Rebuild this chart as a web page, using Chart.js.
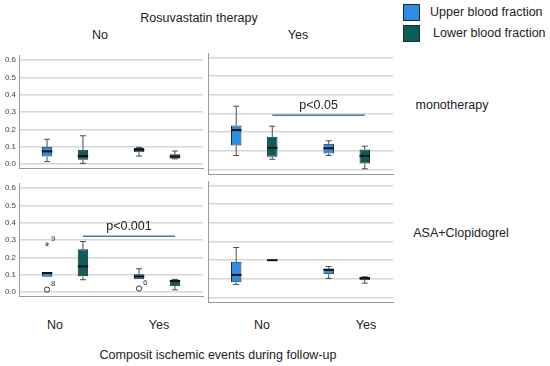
<!DOCTYPE html>
<html>
<head>
<meta charset="utf-8">
<script src="https://cdn.jsdelivr.net/npm/chart.js@4"></script>
<style>
body { margin: 0; background: #fff; }
#wrap { position: relative; width: 550px; height: 366px; font-family: "Liberation Sans", Arial, sans-serif; color: #222; }
canvas { position: absolute; }
.t { position: absolute; white-space: nowrap; transform: translate(-50%, -50%); font-size: 12.5px; }
.l { position: absolute; white-space: nowrap; transform: translateY(-50%); font-size: 12.5px; }
.sw { position: absolute; width: 15px; height: 15px; border: 1px solid #1d2b36; }
</style>
</head>
<body>
<div id="wrap">
  <div class="t" style="left:199px;top:18px">Rosuvastatin therapy</div>
  <div class="t" style="left:100px;top:35px">No</div>
  <div class="t" style="left:298px;top:35px">Yes</div>
  <div class="sw" style="left:403px;top:4px;background:#2b8de3"></div>
  <div class="l" style="left:430px;top:12px">Upper blood fraction</div>
  <div class="sw" style="left:403px;top:25px;background:#0b5e58"></div>
  <div class="l" style="left:433px;top:33px">Lower blood fraction</div>
  <div class="t" style="left:452px;top:105px">monotherapy</div>
  <div class="t" style="left:461px;top:233px">ASA+Clopidogrel</div>
  <div class="t" style="left:55px;top:325px">No</div>
  <div class="t" style="left:159px;top:325px">Yes</div>
  <div class="t" style="left:262px;top:325px">No</div>
  <div class="t" style="left:366px;top:325px">Yes</div>
  <div class="t" style="left:218px;top:355px">Composit ischemic events during follow-up</div>

  <canvas id="tl" width="205" height="128" style="left:0px;top:48px"></canvas>
  <canvas id="tr" width="189" height="128" style="left:206px;top:48px"></canvas>
  <canvas id="bl" width="205" height="128" style="left:0px;top:176px"></canvas>
  <canvas id="br" width="189" height="128" style="left:206px;top:176px"></canvas>
</div>
<script>
// composit ischemic events (x categories)
var events = ["No", "Yes"];
var yTicks = [0, 0.1, 0.2, 0.3, 0.4, 0.5, 0.6];

// each entry: [min, q1, median, q3, max] for events No / Yes
var monoNoUpper = [[0.014, 0.043, 0.073, 0.100, 0.143], [0.046, 0.068, 0.082, 0.093, 0.096]];
var monoNoLower = [[0.004, 0.025, 0.046, 0.082, 0.163], [0.030, 0.032, 0.043, 0.057, 0.075]];
var monoYesUpper = [[0.075, 0.129, 0.211, 0.236, 0.339], [0.075, 0.086, 0.114, 0.138, 0.154]];
var monoYesLower = [[0.055, 0.068, 0.116, 0.175, 0.232], [0.004, 0.032, 0.073, 0.107, 0.125]];
var dualNoUpper = [[0.088, 0.088, 0.109, 0.116, 0.116], [0.073, 0.073, 0.090, 0.102, 0.134]];
var dualNoLower = [[0.071, 0.091, 0.148, 0.246, 0.291], [0.013, 0.034, 0.064, 0.071, 0.073]];
var dualYesUpper = [[0.070, 0.082, 0.121, 0.191, 0.268], [0.102, 0.125, 0.148, 0.155, 0.166]];
var dualYesLower = [[0.198, 0.198, 0.200, 0.202, 0.202], [0.077, 0.093, 0.104, 0.109, 0.111]];

// outliers in ASA+Clopidogrel / no rosuvastatin panel (upper fraction)
var dualNoOutlierCat = [0, 0, 1];
var dualNoOutlierVal = [0.27, 0.014, 0.02];
var dualNoOutlierMark = ["*", "o", "o"];
var dualNoOutlierCase = ["9", "8", "6"];

var upperColor = "#2b8de3";
var lowerColor = "#0b5e58";
Chart.defaults.font.family = "'Liberation Sans', Arial, sans-serif";

var boxExtras = {
    id: "boxExtras",
    beforeDatasetsDraw: function (chart) {
        var ctx = chart.ctx, y = chart.scales.y;
        chart.data.datasets.forEach(function (ds, d) {
            chart.getDatasetMeta(d).data.forEach(function (bar, i) {
                var s = ds.stats[i];
                ctx.save();
                ctx.strokeStyle = "#4a4a4a";
                ctx.lineWidth = 1;
                [[s[3], s[4]], [s[1], s[0]]].forEach(function (p) {
                    if (Math.abs(p[1] - p[0]) < 0.002) return;
                    var y0 = y.getPixelForValue(p[0]), y1 = y.getPixelForValue(p[1]);
                    ctx.beginPath();
                    ctx.moveTo(bar.x, y0);
                    ctx.lineTo(bar.x, y1);
                    ctx.moveTo(bar.x - 3, y1);
                    ctx.lineTo(bar.x + 3, y1);
                    ctx.stroke();
                });
                ctx.restore();
            });
        });
    },
    afterDatasetsDraw: function (chart, args, opts) {
        var ctx = chart.ctx, y = chart.scales.y;
        ctx.save();
        chart.data.datasets.forEach(function (ds, d) {
            chart.getDatasetMeta(d).data.forEach(function (bar, i) {
                var ym = y.getPixelForValue(ds.stats[i][2]);
                ctx.strokeStyle = "#111";
                ctx.lineWidth = 2;
                ctx.beginPath();
                ctx.moveTo(bar.x - bar.width / 2, ym);
                ctx.lineTo(bar.x + bar.width / 2, ym);
                ctx.stroke();
            });
        });
        if (opts.outCat) {
            var meta = chart.getDatasetMeta(0);
            opts.outCat.forEach(function (c, k) {
                var x = meta.data[c].x, py = y.getPixelForValue(opts.outVal[k]);
                ctx.strokeStyle = "#333";
                ctx.fillStyle = "#333";
                ctx.lineWidth = 1;
                if (opts.outMark[k] === "o") {
                    ctx.beginPath();
                    ctx.arc(x, py, 2.6, 0, Math.PI * 2);
                    ctx.stroke();
                } else {
                    ctx.font = "12px 'Liberation Sans'";
                    ctx.textAlign = "center";
                    ctx.textBaseline = "middle";
                    ctx.fillText("*", x, py + 2);
                }
                ctx.font = "8px 'Liberation Sans'";
                ctx.textAlign = "left";
                ctx.textBaseline = "middle";
                ctx.fillText(opts.outCase[k], x + 4, py - 6);
            });
        }
        if (opts.pText) {
            var m = chart.getDatasetMeta(1);
            var x0 = m.data[0].x, x1 = m.data[1].x, py = y.getPixelForValue(opts.pValue);
            ctx.strokeStyle = "#4a7c98";
            ctx.lineWidth = 1.5;
            ctx.beginPath();
            ctx.moveTo(x0, py);
            ctx.lineTo(x1, py);
            ctx.stroke();
            ctx.fillStyle = "#222";
            ctx.font = "12.5px 'Liberation Sans'";
            ctx.textAlign = "center";
            ctx.textBaseline = "middle";
            ctx.fillText(opts.pText, (x0 + x1) / 2, py - 10);
        }
        ctx.restore();
    }
};

function makePanel(id, upper, lower, left, extras) {
    var mk = function (stats, color) {
        return {
            data: stats.map(function (s) { return [s[1], s[3]]; }),
            stats: stats,
            backgroundColor: color,
            borderColor: "#1d2b36",
            borderWidth: 1,
            borderSkipped: false,
            categoryPercentage: 0.78,
            barPercentage: 0.29
        };
    };
    return new Chart(document.getElementById(id), {
        type: "bar",
        data: { labels: events, datasets: [mk(upper, upperColor), mk(lower, lowerColor)] },
        options: {
            responsive: false,
            animation: false,
            layout: { padding: { top: 5, bottom: 2, right: 2, left: left ? 0 : 2 } },
            plugins: { legend: { display: false }, tooltip: { enabled: false }, boxExtras: extras || {} },
            scales: {
                x: {
                    afterFit: function (s) { s.height = 0; },
                    grid: { display: false },
                    border: { display: true, color: "#9a9a9a", width: 1 },
                    ticks: { display: false }
                },
                y: {
                    min: -0.024,
                    max: 0.624,
                    afterBuildTicks: function (s) { s.ticks = yTicks.map(function (v) { return { value: v }; }); },
                    afterFit: function (s) { s.width = left ? 19 : 0; },
                    grid: { color: "#d6d6d6", lineWidth: 1.5, drawTicks: false },
                    border: { display: true, color: "#9a9a9a", width: 1 },
                    ticks: {
                        display: left,
                        padding: 3,
                        color: "#444",
                        font: { size: 8 },
                        callback: function (v) { return Number(v).toFixed(1); }
                    }
                }
            }
        },
        plugins: [boxExtras]
    });
}

makePanel("tl", monoNoUpper, monoNoLower, true);
makePanel("tr", monoYesUpper, monoYesLower, false, { pText: "p<0.05", pValue: 0.291 });
makePanel("bl", dualNoUpper, dualNoLower, true, {
    pText: "p<0.001", pValue: 0.321,
    outCat: dualNoOutlierCat, outVal: dualNoOutlierVal, outMark: dualNoOutlierMark, outCase: dualNoOutlierCase
});
makePanel("br", dualYesUpper, dualYesLower, false);
</script>
</body>
</html>
